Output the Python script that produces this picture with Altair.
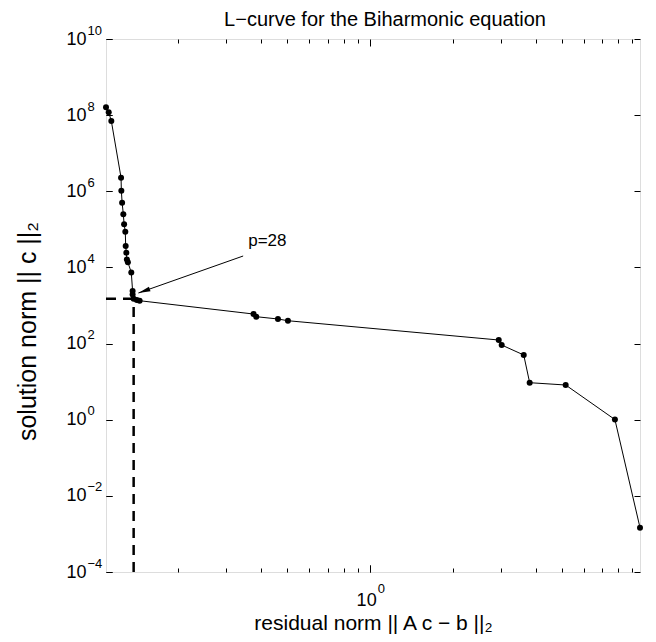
import altair as alt
import pandas as pd

# ---- data ----
residual = [0.1093, 0.1118, 0.1143, 0.1240, 0.1243, 0.1251, 0.1264, 0.1272, 0.1285,
            0.1289, 0.1296, 0.1302, 0.1313, 0.1351, 0.1366, 0.1366, 0.1378, 0.1415,
            0.1449, 0.3763, 0.3850, 0.4619, 0.5021, 2.938, 3.012, 3.623, 3.808,
            5.149, 7.780, 9.60]
solution = [1.61e8, 1.19e8, 7.0e7, 2.27e6, 1.04e6, 5.0e5, 2.48e5, 1.36e5, 8.67e4,
            3.65e4, 2.44e4, 1.61e4, 1.37e4, 7360, 2400, 1945, 1500, 1393,
            1336, 597, 508, 442, 398, 124, 91.6, 50.1, 9.38,
            8.16, 1.01, 0.00146]
corner_index = 16          # the point marked p=28
annot_text = ["p=28"]
annot_x = [0.36]
annot_y = [49400]
arrow_x = [0.345, 0.1434]  # start, tip
arrow_y = [19950, 2128]

y_tick_values = [1e-4, 1e-2, 1, 1e2, 1e4, 1e6, 1e8, 1e10]
y_tick_exponents = ["\u22124", "\u22122", "0", "2", "4", "6", "8", "10"]
x_major_values = [1]
x_major_exponents = ["0"]
x_minor_values = [0.2, 0.3, 0.4, 0.5, 0.6, 0.7, 0.8, 0.9, 2, 3, 4, 5, 6, 7, 8, 9]

title_text = "L\u2212curve for the Biharmonic equation"
x_title = "residual norm || A c \u2212 b ||\u2082"
y_title = "solution norm || c ||\u2082"

FONT = "Liberation Sans"
x_domain = [min(residual), max(residual)]
y_domain = [min(y_tick_values), max(y_tick_values)]

df = pd.DataFrame({"residual": residual, "solution": solution})
cx, cy = residual[corner_index], solution[corner_index]
hdash = pd.DataFrame({"x": [x_domain[0]], "x2": [cx], "y": [cy]})
vdash = pd.DataFrame({"x": [cx], "y": [y_domain[0]], "y2": [cy]})
arrow_df = pd.DataFrame({"x": arrow_x, "y": arrow_y, "o": [0, 1]})
tip_df = pd.DataFrame({"x": [arrow_x[1]], "y": [arrow_y[1]]})
text_df = pd.DataFrame({"x": annot_x, "y": annot_y, "t": annot_text})

xs = alt.Scale(type="log", domain=x_domain, nice=False)
ys = alt.Scale(type="log", domain=y_domain, nice=False)

y_exp_expr = ""
for v, l in zip(y_tick_values, y_tick_exponents):
    y_exp_expr += f"datum.value <= {v * 1.5} ? '{l}' : "
y_exp_expr += "''"
x_exp_expr = f"'{x_major_exponents[0]}'"

common = dict(domain=False, grid=False, tickColor="black", tickWidth=1,
              labelFont=FONT, labelColor="black",
              titleFont=FONT, titleColor="black", titleFontWeight="normal")

# x axes (bottom: base "10" + exponent; minor ticks), top mirrors ticks
ax_bottom_major = alt.Axis(orient="bottom", values=x_major_values, labelExpr="'10'",
                           labelFontSize=18, labelOffset=-4,
                           tickSize=7, offset=-7, labelPadding=19, title=x_title,
                           titleFontSize=21, titlePadding=3, **common)
ax_bottom_exp = alt.Axis(orient="bottom", values=x_major_values, labelExpr=x_exp_expr,
                         labelFontSize=13, labelAlign="left", labelOffset=7,
                         tickSize=7, offset=-7, labelPadding=10, title=None, **common)
ax_bottom_minor = alt.Axis(orient="bottom", values=x_minor_values, labels=False,
                           tickSize=4, offset=-4, title=None, **common)
ax_top_major = alt.Axis(orient="top", values=x_major_values, labels=False,
                        tickSize=7, offset=-7, title=None, **common)
ax_top_minor = alt.Axis(orient="top", values=x_minor_values, labels=False,
                        tickSize=4, offset=-4, title=None, **common)
# y axes (left: base "10" + exponent), right mirrors ticks
ax_left = alt.Axis(orient="left", values=y_tick_values, labelExpr="'10'",
                   labelFontSize=18, tickSize=6, offset=-6, labelPadding=20,
                   title=y_title, titleFontSize=25, titlePadding=25, titleY=292,
                   **common)
ax_left_exp = alt.Axis(orient="left", values=y_tick_values, labelExpr=y_exp_expr,
                       labelFontSize=13, labelAlign="left", labelOffset=-9,
                       tickSize=6, offset=-6, labelPadding=19, title=None, **common)
ax_right = alt.Axis(orient="right", values=y_tick_values, labels=False,
                    tickSize=6, offset=-6, title=None, **common)

line = alt.Chart(df).mark_line(color="black", strokeWidth=1, clip=False).encode(
    x=alt.X("residual:Q", scale=xs, axis=ax_bottom_major),
    y=alt.Y("solution:Q", scale=ys, axis=ax_left),
)
points = alt.Chart(df).mark_circle(color="black", size=36, opacity=1, clip=False).encode(
    x=alt.X("residual:Q", scale=xs, axis=ax_bottom_minor),
    y=alt.Y("solution:Q", scale=ys, axis=ax_right),
)
hline = alt.Chart(hdash).mark_rule(color="black", strokeWidth=2.5, strokeDash=[10, 7]).encode(
    x=alt.X("x:Q", scale=xs, axis=ax_top_major),
    x2="x2:Q",
    y=alt.Y("y:Q", scale=ys, axis=None),
)
vline = alt.Chart(vdash).mark_rule(color="black", strokeWidth=2.5, strokeDash=[10, 7]).encode(
    x=alt.X("x:Q", scale=xs, axis=ax_top_minor),
    y=alt.Y("y:Q", scale=ys, axis=None),
    y2="y2:Q",
)
shaft = alt.Chart(arrow_df).mark_line(color="black", strokeWidth=1).encode(
    x=alt.X("x:Q", scale=xs, axis=ax_bottom_exp),
    y=alt.Y("y:Q", scale=ys, axis=ax_left_exp),
    order="o:Q",
)
head = alt.Chart(tip_df).mark_point(
    shape="M0,0L-0.32,1.6L0.32,1.6Z", filled=True, color="black", size=225,
    angle=250.6, opacity=1, strokeWidth=0,
).encode(
    x=alt.X("x:Q", scale=xs, axis=None),
    y=alt.Y("y:Q", scale=ys, axis=None),
)
label = alt.Chart(text_df).mark_text(
    align="left", baseline="middle", font=FONT, fontSize=17, color="black"
).encode(
    x=alt.X("x:Q", scale=xs, axis=None),
    y=alt.Y("y:Q", scale=ys, axis=None),
    text="t:N",
)

chart = alt.layer(line, points, hline, vline, shaft, head, label).resolve_axis(
    x="independent", y="independent"
).properties(
    width=534, height=533,
    autosize=alt.AutoSizeParams(type="none"),
    padding={"left": 98, "top": 31, "right": 8, "bottom": 62},
    title=alt.TitleParams(title_text, font=FONT, fontSize=20, fontWeight="normal",
                          color="black", anchor="middle", frame="group", offset=-6, dx=12),
).configure_view(stroke="black", strokeWidth=1.5).configure(background="white")

chart.save("out.html", embed_options={"renderer": "svg", "actions": False})
